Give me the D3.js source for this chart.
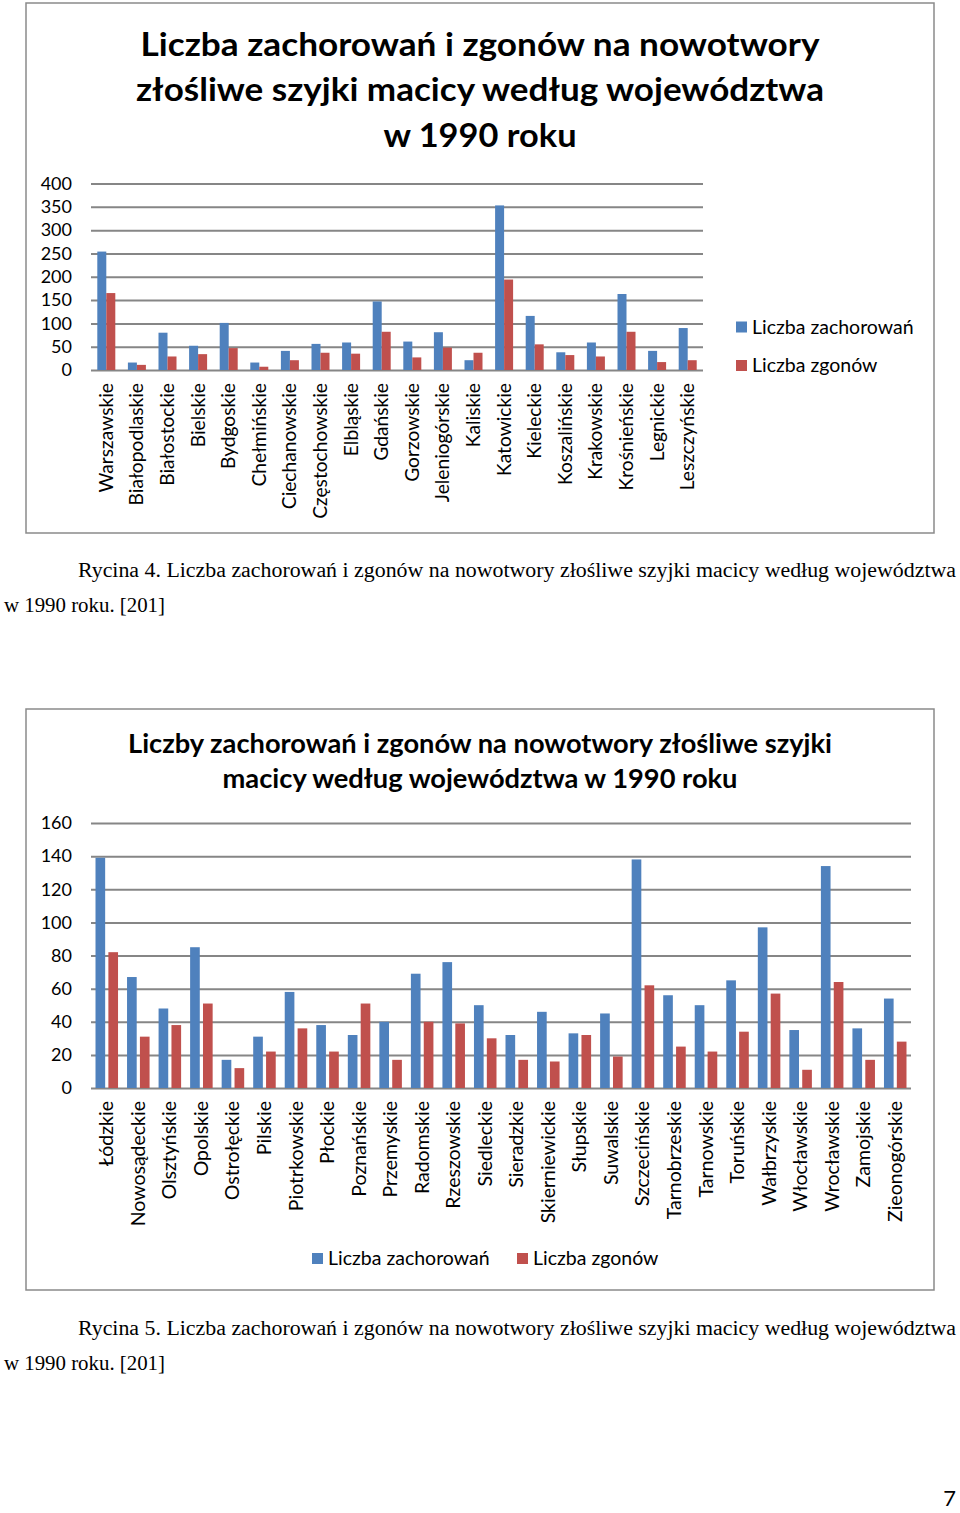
<!DOCTYPE html>
<html><head><meta charset="utf-8">
<script src="https://cdn.jsdelivr.net/npm/d3@7"></script>
<style>body{margin:0;background:#fff}svg{display:block}</style>
</head><body>
<script>
// ---- Data: chart 1 (Rycina 4) ----
const categories1 = ["Warszawskie","Białopodlaskie","Białostockie","Bielskie","Bydgoskie","Chełmińskie","Ciechanowskie","Częstochowskie","Elbląskie","Gdańskie","Gorzowskie","Jeleniogórskie","Kaliskie","Katowickie","Kieleckie","Koszalińskie","Krakowskie","Krośnieńskie","Legnickie","Leszczyńskie"];
const zachorowania1 = [254,16,80,52,101,16,41,56,59,147,61,81,21,353,116,38,59,163,41,90];
const zgony1 = [165,11,29,34,47,7,21,37,35,82,27,48,37,194,55,32,29,82,17,21];
const ticks1 = [0,50,100,150,200,250,300,350,400];

// ---- Data: chart 2 (Rycina 5) ----
const categories2 = ["Łódzkie","Nowosądeckie","Olsztyńskie","Opolskie","Ostrołęckie","Pilskie","Piotrkowskie","Płockie","Poznańskie","Przemyskie","Radomskie","Rzeszowskie","Siedleckie","Sieradzkie","Skierniewickie","Słupskie","Suwalskie","Szczecińskie","Tarnobrzeskie","Tarnowskie","Toruńskie","Wałbrzyskie","Włocławskie","Wrocławskie","Zamojskie","Zieonogórskie"];
const zachorowania2 = [139,67,48,85,17,31,58,38,32,40,69,76,50,32,46,33,45,138,56,50,65,97,35,134,36,54];
const zgony2 = [82,31,38,51,12,22,36,22,51,17,40,39,30,17,16,32,19,62,25,22,34,57,11,64,17,28];
const ticks2 = [0,20,40,60,80,100,120,140,160];

const seriesNames = ["Liczba zachorowań","Liczba zgonów"];
const colors = ["#4F81BD","#C0504D"];

const FONT = "Lato, 'Open Sans', sans-serif";
const SERIF = "'Liberation Serif', 'DejaVu Serif', serif";

const svg = d3.select("body").append("svg").attr("width",960).attr("height",1513);
svg.append("rect").attr("width",960).attr("height",1513).attr("fill","#fff");

function chart(cfg){
  const g = svg.append("g");
  g.append("rect").attr("x",cfg.frame[0]).attr("y",cfg.frame[1])
    .attr("width",cfg.frame[2]-cfg.frame[0]).attr("height",cfg.frame[3]-cfg.frame[1])
    .attr("fill","none").attr("stroke","#8a8a8a").attr("stroke-width",1.5);
  cfg.title.forEach(t=>{
    g.append("text").attr("x",t.x).attr("y",t.y).attr("text-anchor","middle")
      .attr("font-family",FONT).attr("font-weight","bold").attr("font-size",cfg.titleSize)
      .attr("textLength",t.w).attr("lengthAdjust","spacingAndGlyphs")
      .attr("fill","#000").text(t.text);
  });
  const x = d3.scaleBand().domain(cfg.cats).range([cfg.left,cfg.right]).paddingInner(0).paddingOuter(0);
  const y = d3.scaleLinear().domain([0,cfg.max]).range([cfg.bottom,cfg.top]);
  const ax = g.append("g").attr("transform",`translate(${cfg.left},0)`)
    .call(d3.axisLeft(y).tickValues(cfg.ticks).tickSize(-(cfg.right-cfg.left)).tickPadding(19).tickFormat(d3.format("d")));
  ax.select(".domain").remove();
  ax.selectAll(".tick line").attr("stroke","#868686").attr("stroke-width",2);
  ax.selectAll(".tick text").attr("font-family",FONT).attr("font-size",cfg.tickSize).attr("fill","#000");
  const inner = d3.scaleBand().domain([0,1]).range([0,x.bandwidth()]).paddingInner(cfg.gapIn).paddingOuter(cfg.gapOut);
  [cfg.s1,cfg.s2].forEach((vals,si)=>{
    g.append("g").selectAll("rect").data(vals).join("rect")
      .attr("x",(d,i)=>x(cfg.cats[i])+inner(si))
      .attr("width",inner.bandwidth())
      .attr("y",d=>y(d)).attr("height",d=>y(0)-y(d))
      .attr("fill",colors[si]);
  });
  g.append("g").selectAll("text").data(cfg.cats).join("text")
    .attr("transform",d=>`translate(${x(d)+x.bandwidth()/2+6.5},${cfg.labelY}) rotate(-90)`)
    .attr("text-anchor","end").attr("font-family",FONT).attr("font-size",cfg.labelSize)
    .attr("fill","#000").text(d=>d);
  cfg.legend.forEach((l,i)=>{
    g.append("rect").attr("x",l.x).attr("y",l.y-5.5).attr("width",11).attr("height",11).attr("fill",colors[i]);
    g.append("text").attr("x",l.x+16).attr("y",l.y).attr("dy","0.35em")
      .attr("font-family",FONT).attr("font-size",cfg.legendSize).attr("fill","#000").text(seriesNames[i]);
  });
  g.append("text").attr("x",78).attr("y",cfg.capY).attr("font-family",SERIF).attr("font-size",20)
    .attr("textLength",878).attr("lengthAdjust","spacingAndGlyphs").attr("fill","#000")
    .text(cfg.capText);
  g.append("text").attr("x",4).attr("y",cfg.capY+35).attr("font-family",SERIF).attr("font-size",20)
    .attr("textLength",161).attr("lengthAdjust","spacingAndGlyphs").attr("fill","#000")
    .text("w 1990 roku. [201]");
}

chart({
  frame:[26,3,934,533],
  title:[
    {text:"Liczba zachorowań i zgonów na nowotwory",x:480,y:56,w:679},
    {text:"złośliwe szyjki macicy według województwa",x:480,y:101,w:688},
    {text:"w 1990 roku",x:480,y:147,w:193}
  ],
  titleSize:32,
  cats:categories1, s1:zachorowania1, s2:zgony1,
  left:91,right:703,top:183.5,bottom:370,max:400,ticks:ticks1,
  tickSize:18, labelSize:19.2, labelY:383, legendSize:19.5,
  gapIn:0, gapOut:0.7,
  legend:[{x:736,y:327},{x:736,y:365.5}],
  capY:577,
  capText:"Rycina 4. Liczba zachorowań i zgonów na nowotwory złośliwe szyjki macicy według województwa"
});

chart({
  frame:[26,709,934,1290],
  title:[
    {text:"Liczby zachorowań i zgonów na nowotwory złośliwe szyjki",x:480,y:753,w:704},
    {text:"macicy według województwa w 1990 roku",x:480,y:788,w:515}
  ],
  titleSize:26,
  cats:categories2, s1:zachorowania2, s2:zgony2,
  left:91,right:911,top:823,bottom:1088,max:160,ticks:ticks2,
  tickSize:18, labelSize:19.5, labelY:1101, legendSize:19.5,
  gapIn:0.25, gapOut:0.35,
  legend:[{x:312,y:1258.5},{x:517,y:1258.5}],
  capY:1335,
  capText:"Rycina 5. Liczba zachorowań i zgonów na nowotwory złośliwe szyjki macicy według województwa"
});

svg.append("text").attr("x",956).attr("y",1506).attr("text-anchor","end")
  .attr("font-family",FONT).attr("font-size",22).attr("fill","#000").text("7");
</script>
</body></html>
